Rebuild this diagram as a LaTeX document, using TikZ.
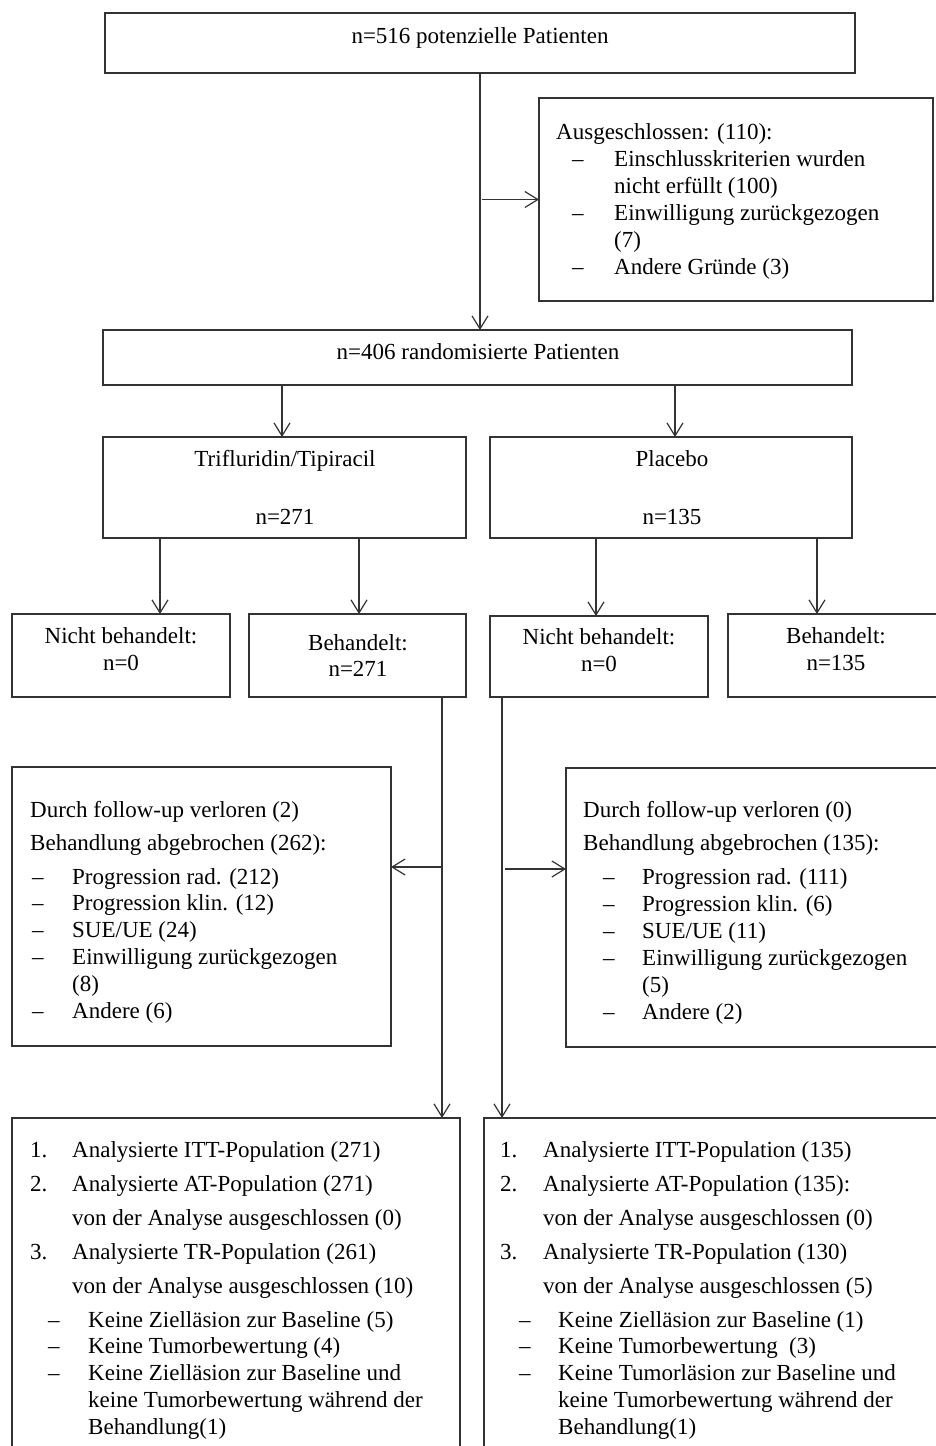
\documentclass[tikz,border=0pt]{standalone}
\usepackage{fontspec}
\setmainfont{Liberation Serif}
\usetikzlibrary{arrows.meta,calc}
\begin{document}
\begin{tikzpicture}[x=1pt,y=-1pt,
  every node/.style={font=\fontsize{23pt}{27pt}\selectfont, text=black},
  box/.style={draw=black!80, line width=1.2pt, inner sep=0pt, outer sep=0pt},
  tl/.style={inner sep=0pt, anchor=base west},
  tc/.style={inner sep=0pt, anchor=base},
  arr/.style={draw=black!80, line width=1.2pt, -{Straight Barb[length=13pt,width=16pt,line width=1.2pt]}}]
\useasboundingbox (0,0) rectangle (936,1446);
\clip (0,0) rectangle (936,1446);
\fill[white] (0,0) rectangle (936,1446);
% boxes
\node[box, minimum width=750, minimum height=60] (b1) at (480,43) {};
\node[box, minimum width=394, minimum height=203] (excl) at (736,199.5) {};
\node[box, minimum width=749, minimum height=55] (b2) at (477.5,357.5) {};
\node[box, minimum width=363, minimum height=101] (tri) at (284.5,487.5) {};
\node[box, minimum width=362, minimum height=101] (plac) at (671,487.5) {};
\node[box, minimum width=218, minimum height=83] (nbl) at (121,655.5) {};
\node[box, minimum width=217, minimum height=83] (bl) at (357.5,655.5) {};
\node[box, minimum width=218, minimum height=81] (nbr) at (599,656.5) {};
\node[box, minimum width=216, minimum height=83] (br) at (836,655.5) {};
\node[box, minimum width=379, minimum height=279] (fl) at (201.5,906.5) {};
\node[box, minimum width=378, minimum height=279] (fr) at (755,907.5) {};
\node[box, minimum width=448, minimum height=342] (al) at (236,1289) {};
\node[box, minimum width=460, minimum height=342] (ar) at (714,1289) {};
% coordinates for connectors
\coordinate (ca) at (282,0);
\coordinate (cb) at (675,0);
\coordinate (cc) at (160,0);
\coordinate (cd) at (359,0);
\coordinate (ce) at (596,0);
\coordinate (cf) at (817,0);
\coordinate (cg) at (442,0);
\coordinate (ch) at (502,0);
\coordinate (cy) at (0,867);
\coordinate (cz) at (0,869);
% connectors
\draw[arr] (b1.south) -- (b1.south |- b2.north);
\draw[arr] ([xshift=2pt]b1.south |- excl.west) -- (excl.west);
\draw[arr] (b2.south -| ca) -- (tri.north -| ca);
\draw[arr] (b2.south -| cb) -- (plac.north -| cb);
\draw[arr] (tri.south -| cc) -- (nbl.north -| cc);
\draw[arr] (tri.south -| cd) -- (bl.north -| cd);
\draw[arr] (plac.south -| ce) -- (nbr.north -| ce);
\draw[arr] (plac.south -| cf) -- (br.north -| cf);
\draw[arr] (bl.south -| cg) -- (al.north -| cg);
\draw[arr] (cg |- cy) -- (fl.east |- cy);
\draw[arr] (nbr.south -| ch) -- (ar.north -| ch);
\draw[arr] ([xshift=3pt]ch |- cz) -- (fr.west |- cz);
% texts: top
\node[tc] (t1) at (480,43) {n=516 potenzielle Patienten};
\node[tl] (e0) at (556,139) {Ausgeschlossen: (110):};
\node[tl] (e1d) at (572,166) {–};
\node[tl] (e1) at (614,166) {Einschlusskriterien wurden};
\node[tl] (e1b) at (614,193) {nicht erfüllt (100)};
\node[tl] (e2d) at (572,220) {–};
\node[tl] (e2) at (614,220) {Einwilligung zurückgezogen};
\node[tl] (e2b) at (614,247) {(7)};
\node[tl] (e3d) at (572,274) {–};
\node[tl] (e3) at (614,274) {Andere Gründe (3)};
\node[tc] (t2) at (478,359) {n=406 randomisierte Patienten};
\node[tc] (tri1) at (285,466) {Trifluridin/Tipiracil};
\node[tc] (tri2) at (285,524) {n=271};
\node[tc] (pl1) at (672,466) {Placebo};
\node[tc] (pl2) at (672,524) {n=135};
\node[tc] (nbl1) at (121,643) {Nicht behandelt:};
\node[tc] (nbl2) at (121,670) {n=0};
\node[tc] (bl1) at (358,650) {Behandelt:};
\node[tc] (bl2) at (358,676) {n=271};
\node[tc] (nbr1) at (599,644) {Nicht behandelt:};
\node[tc] (nbr2) at (599,671) {n=0};
\node[tc] (br1) at (836,643) {Behandelt:};
\node[tc] (br2) at (836,670) {n=135};
% follow-up left
\node[tl] (fl1) at (30,817) {Durch follow-up verloren (2)};
\node[tl] (fl2) at (30,850) {Behandlung abgebrochen (262):};
\node[tl] (fl3d) at (32,884) {–};
\node[tl] (fl3) at (72,884) {Progression rad. (212)};
\node[tl] (fl4d) at (32,910) {–};
\node[tl] (fl4) at (72,910) {Progression klin. (12)};
\node[tl] (fl5d) at (32,937) {–};
\node[tl] (fl5) at (72,937) {SUE/UE (24)};
\node[tl] (fl6d) at (32,964) {–};
\node[tl] (fl6) at (72,964) {Einwilligung zurückgezogen};
\node[tl] (fl6b) at (72,991) {(8)};
\node[tl] (fl7d) at (32,1018) {–};
\node[tl] (fl7) at (72,1018) {Andere (6)};
% follow-up right
\node[tl] (fr1) at (583,817) {Durch follow-up verloren (0)};
\node[tl] (fr2) at (583,850) {Behandlung abgebrochen (135):};
\node[tl] (fr3d) at (603,884) {–};
\node[tl] (fr3) at (642,884) {Progression rad. (111)};
\node[tl] (fr4d) at (603,911) {–};
\node[tl] (fr4) at (642,911) {Progression klin. (6)};
\node[tl] (fr5d) at (603,938) {–};
\node[tl] (fr5) at (642,938) {SUE/UE (11)};
\node[tl] (fr6d) at (603,965) {–};
\node[tl] (fr6) at (642,965) {Einwilligung zurückgezogen};
\node[tl] (fr6b) at (642,992) {(5)};
\node[tl] (fr7d) at (603,1019) {–};
\node[tl] (fr7) at (642,1019) {Andere (2)};
% analysis left
\node[tl] (al1n) at (30,1157) {1.};
\node[tl] (al1) at (72,1157) {Analysierte ITT-Population (271)};
\node[tl] (al2n) at (30,1191) {2.};
\node[tl] (al2) at (72,1191) {Analysierte AT-Population (271)};
\node[tl] (al2b) at (72,1225) {von der Analyse ausgeschlossen (0)};
\node[tl] (al3n) at (30,1259) {3.};
\node[tl] (al3) at (72,1259) {Analysierte TR-Population (261)};
\node[tl] (al3b) at (72,1293) {von der Analyse ausgeschlossen (10)};
\node[tl] (al4d) at (48,1327) {–};
\node[tl] (al4) at (88,1327) {Keine Zielläsion zur Baseline (5)};
\node[tl] (al5d) at (48,1353) {–};
\node[tl] (al5) at (88,1353) {Keine Tumorbewertung (4)};
\node[tl] (al6d) at (48,1380) {–};
\node[tl] (al6) at (88,1380) {Keine Zielläsion zur Baseline und};
\node[tl] (al6b) at (88,1407) {keine Tumorbewertung während der};
\node[tl] (al6c) at (88,1434) {Behandlung(1)};
% analysis right
\node[tl] (ar1n) at (500,1157) {1.};
\node[tl] (ar1) at (543,1157) {Analysierte ITT-Population (135)};
\node[tl] (ar2n) at (500,1191) {2.};
\node[tl] (ar2) at (543,1191) {Analysierte AT-Population (135):};
\node[tl] (ar2b) at (543,1225) {von der Analyse ausgeschlossen (0)};
\node[tl] (ar3n) at (500,1259) {3.};
\node[tl] (ar3) at (543,1259) {Analysierte TR-Population (130)};
\node[tl] (ar3b) at (543,1293) {von der Analyse ausgeschlossen (5)};
\node[tl] (ar4d) at (519,1327) {–};
\node[tl] (ar4) at (558,1327) {Keine Zielläsion zur Baseline (1)};
\node[tl] (ar5d) at (519,1353) {–};
\node[tl] (ar5) at (558,1353) {Keine Tumorbewertung\ \ (3)};
\node[tl] (ar6d) at (519,1380) {–};
\node[tl] (ar6) at (558,1380) {Keine Tumorläsion zur Baseline und};
\node[tl] (ar6b) at (558,1407) {keine Tumorbewertung während der};
\node[tl] (ar6c) at (558,1434) {Behandlung(1)};
\end{tikzpicture}
\end{document}
